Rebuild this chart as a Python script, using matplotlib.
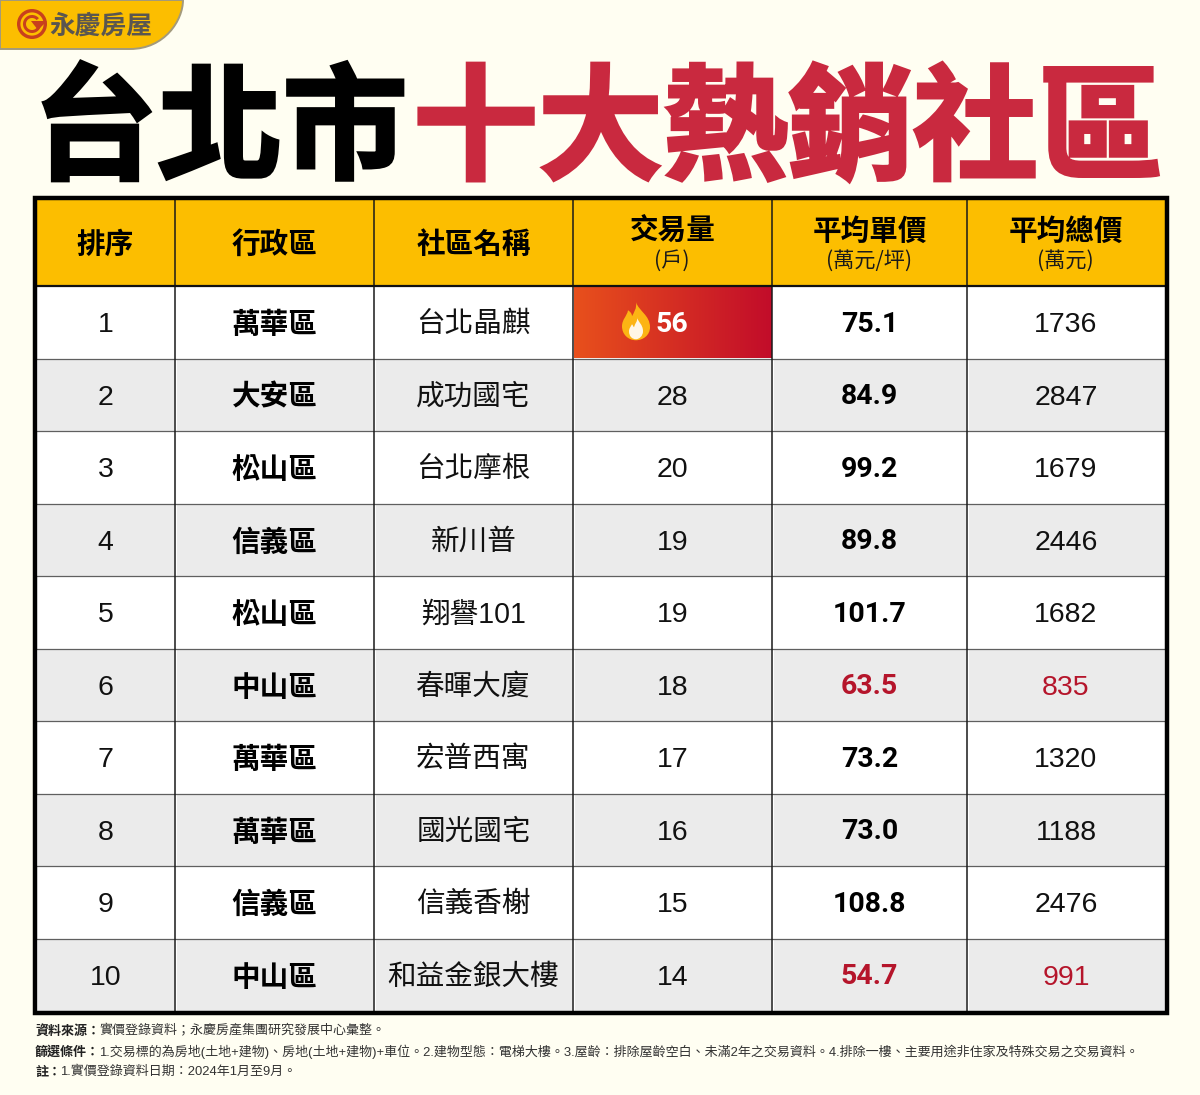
"""top ten best selling communities in Taipei, rebuilt as a table figure
"""

import matplotlib
matplotlib.use('Agg')
import matplotlib.pyplot as plt
import numpy as np
from matplotlib.patches import PathPatch, Polygon, Rectangle, Wedge
from matplotlib.path import Path
import matplotlib.patheffects as pe

CJK = 'Noto Sans CJK TC'
plt.rcParams['font.family'] = [CJK, 'DejaVu Sans']

headers = ['排序', '行政區', '社區名稱', '交易量', '平均單價', '平均總價']
sub_headers = ['', '', '', '(戶)', '(萬元/坪)', '(萬元)']
ranks = ['1', '2', '3', '4', '5', '6', '7', '8', '9', '10']
districts = ['萬華區', '大安區', '松山區', '信義區', '松山區',
             '中山區', '萬華區', '萬華區', '信義區', '中山區']
communities = ['台北晶麒', '成功國宅', '台北摩根', '新川普', '翔譽101',
               '春暉大廈', '宏普西寓', '國光國宅', '信義香榭', '和益金銀大樓']
volumes = [56, 28, 20, 19, 19, 18, 17, 16, 15, 14]
unit_prices = [75.1, 84.9, 99.2, 89.8, 101.7, 63.5, 73.2, 73.0, 108.8, 54.7]
total_prices = [1736, 2847, 1679, 2446, 1682, 835, 1320, 1188, 2476, 991]
low_price_rows = [5, 9]

notes = [
    ('資料來源：', '實價登錄資料；永慶房產集團研究發展中心彙整。'),
    ('篩選條件：', '1.交易標的為房地(土地+建物)、房地(土地+建物)+車位。2.建物型態：電梯大樓。'
              '3.屋齡：排除屋齡空白、未滿2年之交易資料。4.排除一樓、主要用途非住家及特殊交易之交易資料。'),
    ('註：', '1.實價登錄資料日期：2024年1月至9月。'),
]

BG = '#fffef2'
YELLOW = '#fcbe00'
RED_TITLE = '#c9293f'
RED_TEXT = '#b5152b'
GRAY_ROW = '#ebebeb'
NUM_FONT = ['Liberation Sans', CJK]
BOLD_FONT = ['Roboto', CJK]

col_x = [36, 175, 374, 573, 772, 967, 1165]
head_top, head_bottom = 199, 286
row_h = (1011 - head_bottom) / len(ranks)


def draw_flame(ax, cx, cy):
    """flame icon next to the top value
    """
    outer = [(0, 19), (3, 10), (14, 6), (14, -6), (14, -14), (7, -19), (0, -19),
             (-8, -19), (-14, -13), (-14, -5), (-14, 2), (-9, 5), (-8, 11),
             (-5, 9), (-4, 7), (-4, 5), (-2, 9), (1, 13), (0, 19)]
    inner = [(1, 4), (2, -1), (7, -3), (7, -10), (7, -15), (3, -18), (0, -18),
             (-4, -18), (-7, -15), (-7, -10), (-7, -7), (-5, -5), (-4, -3),
             (-3, -4), (-3, -5), (-2, -6), (-1, -2), (2, 0), (1, 4)]
    for pts, color in [(outer, '#fcb414'), (inner, '#fff6e6')]:
        codes = [Path.MOVETO] + [Path.CURVE4] * (len(pts) - 1)
        verts = [(cx + x, cy - y) for x, y in pts]
        ax.add_patch(PathPatch(Path(verts, codes), fc=color, ec='none', zorder=5))


def draw_badge(ax):
    """yellow corner tab with the company logo
    """
    verts = [(0, 0), (183, 0), (183, 20), (165, 49), (130, 49), (0, 49), (0, 0)]
    codes = [Path.MOVETO, Path.LINETO, Path.CURVE4, Path.CURVE4, Path.CURVE4,
             Path.LINETO, Path.CLOSEPOLY]
    ax.add_patch(PathPatch(Path(verts, codes), fc=YELLOW, ec='#a39a7c', lw=1.4, zorder=2))
    ax.add_patch(Wedge((32, 24), 15, 0, 360, width=3.4, fc='#c8401d', ec='none', zorder=3))
    ax.add_patch(Wedge((32, 24), 9, 20, 320, width=3, fc='#c8401d', ec='none', zorder=3))
    ax.add_patch(Polygon([(31, 21), (47, 21), (38, 30)], fc='#c8401d', ec='none', zorder=3))
    ax.text(101, 26, '永慶房屋', fontsize=18.5, fontweight='black', color='#5a5650',
            ha='center', va='center', zorder=3)


def draw_table(ax):
    """header band, rows and grid of the table
    """
    ax.add_patch(Rectangle((col_x[0] - 1, 197), col_x[-1] - col_x[0] + 2, 1012 - 197,
                           fc='white', ec='none', zorder=1))
    ax.add_patch(Rectangle((col_x[0], head_top), col_x[-1] - col_x[0], head_bottom - head_top,
                           fc=YELLOW, ec='none', zorder=1))
    for i in range(len(ranks)):
        top = head_bottom + i * row_h
        if i % 2 == 1:
            for left, right in zip(col_x[:-1], col_x[1:]):
                ax.add_patch(Rectangle((left + 2, top + 1), right - left - 3, row_h - 1.5,
                                       fc=GRAY_ROW, ec='none', zorder=1))
        if i > 0:
            ax.plot([col_x[0], col_x[-1]], [top, top], color='#5f5f5f', lw=0.9, zorder=2)

    # gradient cell behind the top volume
    gradient = np.linspace(0, 1, 256).reshape(1, -1)
    cmap = matplotlib.colors.LinearSegmentedColormap.from_list('hot_cell', ['#e8501c', '#c20c2a'])
    ax.imshow(gradient, cmap=cmap, aspect='auto', zorder=2,
              extent=(col_x[3] + 1, col_x[4], head_bottom + row_h, head_bottom))

    for x in col_x[1:-1]:
        ax.plot([x, x], [head_top, 1011], color='#1a1a1a', lw=1.1, zorder=3)
    ax.plot([col_x[0], col_x[-1]], [head_bottom, head_bottom], color='#111111', lw=1.6, zorder=3)
    ax.add_patch(Rectangle((34.5, 197.5), 1166.5 - 34.5, 1012.5 - 197.5,
                           fc='none', ec='black', lw=3.2, zorder=4))


def draw_cells(ax):
    """all the text of the table
    """
    centers = [(a + b) / 2 for a, b in zip(col_x[:-1], col_x[1:])]
    for j, (title, sub) in enumerate(zip(headers, sub_headers)):
        y = 231 if sub else 244
        ax.text(centers[j], y, title, fontsize=20.6, fontweight='black', ha='center',
                va='center', color='black', zorder=5)
        if sub:
            ax.text(centers[j] - 0.5, 261, sub, fontsize=15.2, ha='center', va='center',
                    color='#1a1a1a', zorder=5)

    for i in range(len(ranks)):
        y = head_bottom + (i + 0.5) * row_h + 2
        is_low = i in low_price_rows
        ax.text(centers[0], y + 1, ranks[i], fontsize=20.5, family=NUM_FONT, ha='center',
                va='center', color='#111111', zorder=5)
        ax.text(centers[1], y, districts[i], fontsize=20.6, fontweight='black', ha='center',
                va='center', color='black', zorder=5)
        ax.text(centers[2], y, communities[i], fontsize=20.6, family=NUM_FONT, ha='center',
                va='center', color='#111111', zorder=5)
        if i == 0:
            ax.text(672, y, str(volumes[i]), fontsize=20.5, family=BOLD_FONT, fontweight='bold',
                    ha='center', va='center', color='white', zorder=6)
            draw_flame(ax, 636, y - 3)
        else:
            ax.text(centers[3], y + 1, str(volumes[i]), fontsize=20.5, family=NUM_FONT, ha='center',
                    va='center', color='#111111', zorder=5)
        ax.text(centers[4], y, '%.1f' % unit_prices[i], fontsize=20.5, family=BOLD_FONT,
                fontweight='bold', ha='center', va='center',
                color=RED_TEXT if is_low else 'black', zorder=5)
        ax.text(centers[5], y + 1, str(total_prices[i]), fontsize=20.5, family=NUM_FONT,
                ha='center', va='center',
                color=RED_TEXT if is_low else '#111111', zorder=5)


def draw_notes(ax, fig):
    """bold label followed by plain text, one line per note
    """
    family = ['Liberation Sans', CJK]
    renderer = fig.canvas.get_renderer()
    for (label, body), y in zip(notes, [1031, 1052, 1072]):
        t = ax.text(35, y, label, fontsize=9.4, fontweight='bold', family=[CJK], ha='left',
                    va='center', color='#222222', zorder=5)
        box = t.get_window_extent(renderer)
        ax.text(box.x1 - 1, y, body, fontsize=9.36, family=family,
                ha='left', va='center', color='#333333', zorder=5)


def main():
    fig = plt.figure(figsize=[12, 10.95], dpi=100, facecolor=BG)
    ax = fig.add_axes([0, 0, 1, 1])
    ax.set_facecolor(BG)
    ax.set_xlim(0, 1200)
    ax.set_ylim(1095, 0)

    draw_badge(ax)

    # title, drawn in two colours
    for text, x, color in [('台北市', 220, 'black'), ('十大熱銷社區', 788, RED_TITLE)]:
        ax.text(x, 133, text, fontsize=90, fontweight='black', ha='center', va='center',
                color=color, zorder=3,
                path_effects=[pe.withStroke(linewidth=2.5, foreground=color, joinstyle='miter')])

    draw_table(ax)
    draw_cells(ax)
    draw_notes(ax, fig)

    ax.set_xlim(0, 1200)
    ax.set_ylim(1095, 0)
    ax.axis('off')
    fig.savefig('out.png', dpi=100, facecolor=BG)


main()
